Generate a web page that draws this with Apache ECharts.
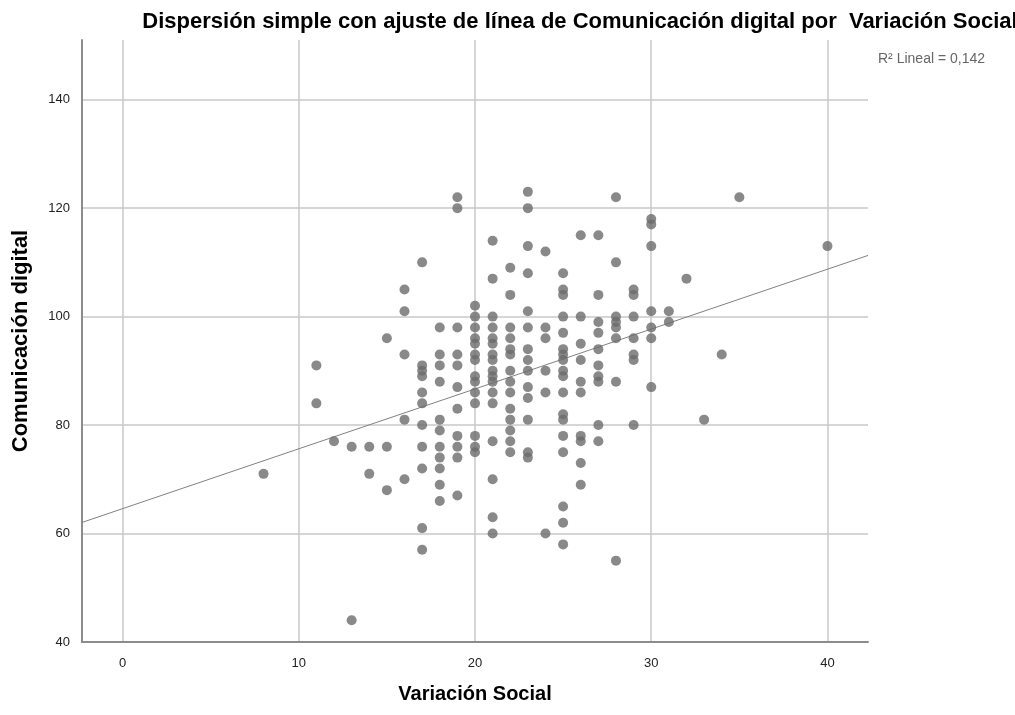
<!DOCTYPE html>
<html>
<head>
<meta charset="utf-8">
<script src="https://cdn.jsdelivr.net/npm/echarts@6/dist/echarts.min.js"></script>
<style>
  html, body { margin: 0; padding: 0; background: #fff; }
  #chart { width: 1015px; height: 715px; }
</style>
</head>
<body>
<div id="chart"></div>
<script>
// Variación Social (x) -> Comunicación digital (y), one list of y values per x score
const xScores = [8, 11, 12, 13, 14, 15, 16, 17, 18, 19, 20, 21, 22, 23, 24, 25, 26, 27, 28, 29, 30, 31, 32, 33, 34, 35, 40];
const yByScore = [
  [71],
  [91, 84],
  [77],
  [76, 44],
  [76, 71],
  [96, 76, 68],
  [105, 101, 93, 81, 70],
  [110, 91, 90, 89, 86, 84, 80, 76, 72, 61, 57],
  [98, 93, 91, 88, 81, 79, 76, 74, 72, 69, 66],
  [122, 120, 98, 93, 91, 87, 83, 78, 76, 74, 67],
  [102, 100, 98, 96, 95, 93, 92, 89, 88, 86, 84, 78, 76, 75],
  [114, 107, 100, 98, 96, 95, 93, 92, 90, 89, 88, 86, 84, 77, 70, 63, 60],
  [109, 104, 98, 96, 94, 93, 90, 88, 86, 83, 81, 79, 77, 75],
  [123, 120, 113, 108, 101, 98, 94, 92, 90, 87, 85, 81, 75, 74],
  [112, 98, 96, 90, 86, 60],
  [108, 105, 104, 100, 97, 94, 93, 92, 90, 89, 86, 82, 81, 78, 75, 65, 62, 58],
  [115, 100, 95, 92, 88, 86, 78, 77, 73, 69],
  [115, 104, 99, 97, 94, 91, 89, 88, 80, 77],
  [122, 110, 100, 99, 98, 96, 88, 55],
  [105, 104, 100, 96, 93, 92, 80],
  [118, 117, 113, 101, 98, 96, 87],
  [101, 99],
  [107],
  [81],
  [93],
  [122],
  [113]
];
const xTicks = [0, 10, 20, 30, 40];
const yTicks = [40, 60, 80, 100, 120, 140];
const r2Label = 'R² Lineal = 0,142';

const xMin = -2.3, xMax = 42.3;

let points = [];
xScores.forEach((x, i) => {
  yByScore[i].forEach(y => points.push([x, y]));
});

// recta de mínimos cuadrados
let n = points.length, sx = 0, sy = 0, sxx = 0, sxy = 0;
points.forEach(p => { sx += p[0]; sy += p[1]; sxx += p[0] * p[0]; sxy += p[0] * p[1]; });
const slope = (n * sxy - sx * sy) / (n * sxx - sx * sx);
const icpt = (sy - slope * sx) / n;
const fitLine = [[xMin, icpt + slope * xMin], [xMax, icpt + slope * xMax]];

const chart = echarts.init(document.getElementById('chart'));
chart.setOption({
  animation: false,
  title: [{
    text: 'Dispersión simple con ajuste de línea de Comunicación digital por  Variación Social',
    left: 575, textAlign: 'center', top: 6,
    textStyle: { fontFamily: 'Liberation Sans', fontSize: 22, fontWeight: 'bold', color: '#000' }
  }, {
    text: r2Label,
    left: 873, top: 47,
    textStyle: { fontFamily: 'Liberation Sans', fontSize: 14, fontWeight: 'normal', color: '#666' }
  }],
  grid: { left: 82, right: 147, top: 40, bottom: 73 },
  xAxis: {
    type: 'value', min: xMin, max: xMax, splitNumber: 5,
    name: 'Variación Social', nameLocation: 'middle', nameGap: 42,
    nameTextStyle: { fontFamily: 'Liberation Sans', fontSize: 20, fontWeight: 'bold', color: '#000' },
    axisLine: { show: true, onZero: false, lineStyle: { color: '#8c8c8c', width: 2 } },
    axisTick: { show: false },
    axisLabel: {
      fontFamily: 'Liberation Sans', fontSize: 13, color: '#222', margin: 15,
      formatter: v => xTicks.indexOf(v) >= 0 ? String(v) : ''
    },
    splitLine: { show: true, showMinLine: false, showMaxLine: false, lineStyle: { color: '#c8c8c8', width: 1.5 } }
  },
  yAxis: {
    type: 'value', min: 40, max: 151, interval: 20,
    name: 'Comunicación digital', nameLocation: 'middle', nameGap: 50,
    nameTextStyle: { fontFamily: 'Liberation Sans', fontSize: 22, fontWeight: 'bold', color: '#000' },
    axisLine: { show: true, onZero: false, lineStyle: { color: '#8c8c8c', width: 2 } },
    axisTick: { show: false },
    axisLabel: {
      fontFamily: 'Liberation Sans', fontSize: 13, color: '#222', margin: 12,
      formatter: v => yTicks.indexOf(v) >= 0 ? String(v) : ''
    },
    splitLine: { show: true, showMinLine: false, showMaxLine: false, lineStyle: { color: '#c8c8c8', width: 1.5 } }
  },
  series: [{
    type: 'scatter',
    data: points,
    symbolSize: 10,
    itemStyle: { color: '#6c6c6c' },
    z: 3
  }, {
    type: 'line',
    data: fitLine,
    symbol: 'none',
    lineStyle: { color: '#808080', width: 1 },
    z: 2
  }]
});
</script>
</body>
</html>
